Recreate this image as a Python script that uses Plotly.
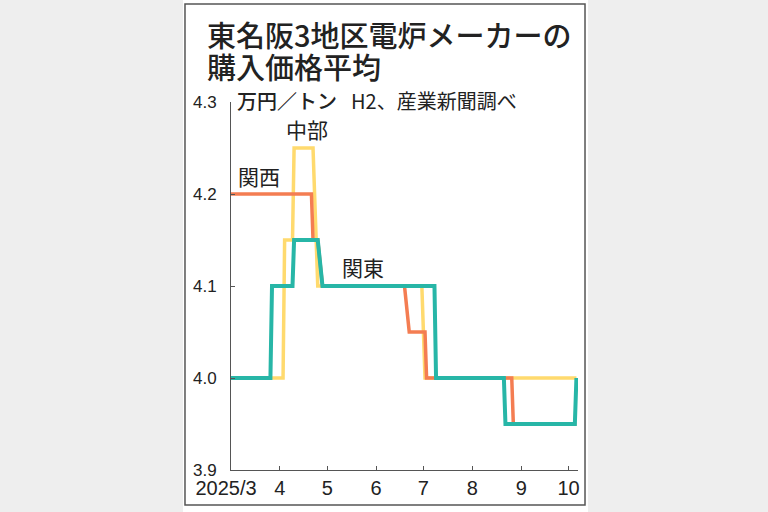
import plotly.graph_objects as go

# 東名阪3地区 電炉メーカー購入価格平均（万円／トン、H2）
kanto_dates = ["2025-03-01", "2025-03-26", "2025-03-27", "2025-04-09", "2025-04-10",
               "2025-04-25", "2025-04-28", "2025-07-08", "2025-07-09", "2025-08-21",
               "2025-08-22", "2025-10-05", "2025-10-06"]
kanto_price = [4.0, 4.0, 4.1, 4.1, 4.15, 4.15, 4.1, 4.1, 4.0, 4.0, 3.95, 3.95, 4.0]

chubu_dates = ["2025-03-01", "2025-04-03", "2025-04-04", "2025-04-09", "2025-04-10",
               "2025-04-22", "2025-04-25", "2025-06-30", "2025-07-02", "2025-10-06"]
chubu_price = [4.0, 4.0, 4.15, 4.15, 4.25, 4.25, 4.1, 4.1, 4.0, 4.0]

kansai_dates = ["2025-03-01", "2025-04-21", "2025-04-22", "2025-04-25", "2025-04-28",
                "2025-06-19", "2025-06-22", "2025-07-02", "2025-07-03", "2025-08-26",
                "2025-08-27", "2025-10-06"]
kansai_price = [4.2, 4.2, 4.15, 4.15, 4.1, 4.1, 4.05, 4.05, 4.0, 4.0, 3.95, 3.95]

x_tickvals = ["2025-03-01", "2025-04-01", "2025-05-01", "2025-06-01",
              "2025-07-01", "2025-08-01", "2025-09-01", "2025-10-01"]
x_ticktext = ["2025/3\u2002", "4", "5", "6", "7", "8", "9", "10"]
y_tickvals = [3.9, 4.0, 4.1, 4.2, 4.3]
y_ticktext = ["3.9", "4.0", "4.1", "4.2", "4.3"]

# 系列ラベル（名前, 日付, 値）
series_labels = [("中部", "2025-04-18", 4.271),
                 ("関西", "2025-03-19", 4.220),
                 ("関東", "2025-05-24", 4.121)]

JP = "Noto Sans CJK JP"
NUM = "Liberation Sans"

fig = go.Figure()
fig.add_trace(go.Scatter(x=chubu_dates, y=chubu_price, mode="lines", name="中部",
                         line=dict(color="#FFDA6E", width=3.5)))
fig.add_trace(go.Scatter(x=kansai_dates, y=kansai_price, mode="lines", name="関西",
                         line=dict(color="#F47D52", width=3.5)))
fig.add_trace(go.Scatter(x=kanto_dates, y=kanto_price, mode="lines", name="関東",
                         line=dict(color="#27B6A7", width=4)))

for name, d, v in series_labels:
    fig.add_annotation(x=d, y=v, xref="x", yref="y", text=name, showarrow=False,
                       font=dict(family=JP, size=21, color="#222"))

# タイトル・単位・出典
fig.add_annotation(x=-0.075, y=1.185, xref="paper", yref="paper", xanchor="left",
                   yanchor="middle", text="東名阪3地区電炉メーカーの", showarrow=False,
                   font=dict(family=JP, size=29, color="#222", weight=500))
fig.add_annotation(x=-0.075, y=1.098, xref="paper", yref="paper", xanchor="left",
                   yanchor="middle", text="購入価格平均", showarrow=False,
                   font=dict(family=JP, size=29, color="#222", weight=500))
fig.add_annotation(x=0.012, y=1.005, xref="paper", yref="paper", xanchor="left",
                   yanchor="middle", text="万円／トン", showarrow=False,
                   font=dict(family=JP, size=20, color="#222", weight=500))
fig.add_annotation(x=0.34, y=1.005, xref="paper", yref="paper", xanchor="left",
                   yanchor="middle", text="H2、産業新聞調べ", showarrow=False,
                   font=dict(family=JP, size=20, color="#222"))

# 白い台紙と枠
fig.add_shape(type="rect", xref="paper", yref="paper", x0=-0.1383, x1=1.0288,
              y0=-0.12, y1=1.28, fillcolor="white", line_width=0, layer="below")
fig.add_shape(type="rect", xref="paper", yref="paper", x0=-0.1326, x1=1.0202,
              y0=-0.0951, y1=1.2663, line=dict(color="#555", width=1.5), layer="below")

fig.update_layout(
    width=768, height=512,
    margin=dict(l=231, r=190, t=102, b=42),
    paper_bgcolor="#EEEEEE", plot_bgcolor="white",
    showlegend=False,
)
fig.update_xaxes(type="date", range=["2025-03-01", "2025-10-07"],
                 tickvals=x_tickvals, ticktext=x_ticktext,
                 ticks="inside", ticklen=4, tickcolor="#555",
                 showline=True, linecolor="#555", linewidth=1,
                 showgrid=False, zeroline=False,
                 tickfont=dict(family=NUM, size=20, color="#222"))
fig.update_yaxes(range=[3.9, 4.3], tickvals=y_tickvals, ticktext=y_ticktext,
                 ticks="inside", ticklen=4, tickcolor="#555",
                 showline=True, linecolor="#555", linewidth=1,
                 showgrid=False, zeroline=False, ticklabelstandoff=10,
                 tickfont=dict(family=NUM, size=17, color="#222"))

fig.write_html("out.html", config={"displayModeBar": False},
               post_script="document.body.style.margin='0';"
                           "document.body.style.background='#EEEEEE';")
